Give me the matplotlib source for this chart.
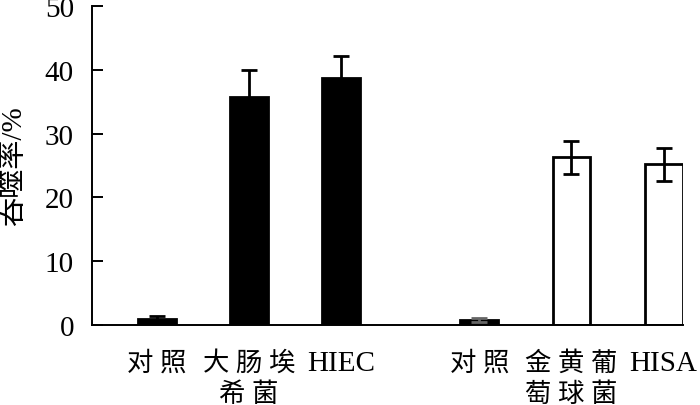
import numpy as np
import matplotlib
matplotlib.use("Agg")
import matplotlib.pyplot as plt

plt.rcParams['font.family'] = ['Liberation Serif', 'Noto Sans CJK SC']

# data
labels = ['对 照', '大 肠 埃\n希 菌', 'HIEC', '对 照', '金 黄 葡\n萄 球 菌', 'HISA']
values = [1.0, 35.8, 38.75, 0.78, 26.3, 25.2]
errors = [0.4, 4.2, 3.45, 0.3, 2.6, 2.6]
positions = [0, 1, 2, 3.5, 4.5, 5.5]
filled = [True, True, True, True, False, False]
err_colors = ['black', 'black', 'black', '#666666', 'black', 'black']

fig = plt.figure(figsize=(7, 4.06), dpi=100)
ax = fig.add_axes([0.1314, 0.197, 0.975 - 0.1314, 0.983 - 0.197])

for x, v, e, f, ec in zip(positions, values, errors, filled, err_colors):
    ax.bar(x, v, width=0.41, color='black' if f else 'white',
           edgecolor='black', linewidth=2, zorder=2)
    ax.errorbar(x, v, yerr=e, fmt='none', ecolor=ec,
                elinewidth=2, capsize=6, capthick=2, zorder=3)

ax.set_xlim(-0.705, 5.705)
ax.set_ylim(0, 50)
ax.set_yticks([0, 10, 20, 30, 40, 50])
ax.set_xticks(positions)
ax.set_xticklabels(labels, linespacing=1.35)
for t, lab in zip(ax.get_xticklabels(), labels):
    t.set_fontsize(21 if lab.startswith('HI') else 19)
    t.set_verticalalignment('top')

ax.spines['top'].set_visible(False)
ax.spines['right'].set_visible(False)
ax.spines['left'].set_linewidth(1.4)
ax.spines['bottom'].set_linewidth(1.4)
ax.tick_params(axis='y', direction='in', length=8, width=1.4, pad=13, labelsize=21)
ax.tick_params(axis='x', length=0, pad=18)

ax.set_ylabel('吞噬率/%', fontsize=21)
ax.yaxis.set_label_coords(-0.11, 0.5)

fig.savefig('out.png', dpi=100)
